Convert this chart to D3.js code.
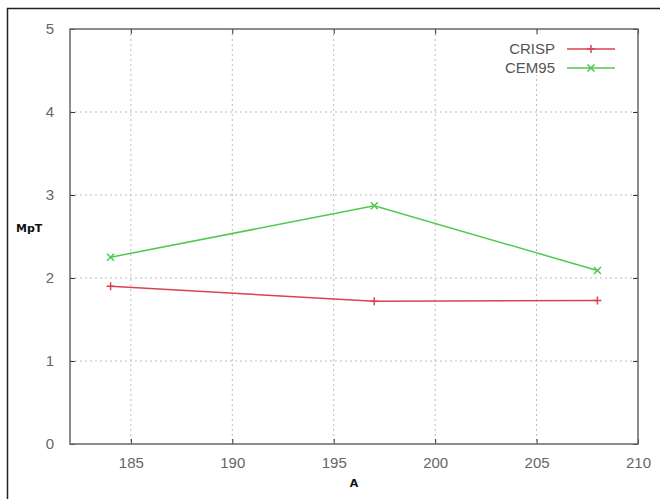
<!DOCTYPE html>
<html>
<head>
<meta charset="utf-8">
<script src="https://cdn.jsdelivr.net/npm/d3@7"></script>
<style>
  body { margin: 0; background: #fff; }
  svg { font-family: "Liberation Sans", Arial, sans-serif; }
  .tick text { fill: #666; font-size: 15px; }
  .axis-title { font-family: "DejaVu Sans", sans-serif; font-weight: bold; font-size: 11px; fill: #111; }
</style>
</head>
<body>
<svg id="chart"></svg>
<script>
// data
const xValues = [184, 197, 208];
const crisp = [1.90, 1.72, 1.73];
const cem95 = [2.25, 2.87, 2.09];
const seriesNames = ['CRISP', 'CEM95'];
const seriesColors = ['#d8434f', '#4ec94e'];
const xTicks = [185, 190, 195, 200, 205, 210];
const yTicks = [0, 1, 2, 3, 4, 5];

const W = 660, H = 499;
const margin = {top: 29, right: 22, bottom: 55, left: 70};
const width = W - margin.left - margin.right;
const height = H - margin.top - margin.bottom;

const svg = d3.select('#chart').attr('width', W).attr('height', H);

// outer frame (cut off at right/bottom in the original)
svg.append('rect')
    .attr('x', 7.5).attr('y', 8.5)
    .attr('width', W).attr('height', H)
    .attr('fill', 'none').attr('stroke', '#222').attr('stroke-width', 1.5);

const chart = svg.append('g')
    .attr('transform', `translate(${margin.left},${margin.top})`);

const xScale = d3.scaleLinear().domain([182, 210]).range([0, width]);
const yScale = d3.scaleLinear().domain([0, 5]).range([height, 0]);

// grid
chart.append('g').selectAll('line')
    .data(xTicks.filter(d => d < 210))
    .join('line')
    .attr('x1', d => xScale(d)).attr('x2', d => xScale(d))
    .attr('y1', 0).attr('y2', height)
    .attr('stroke', '#bbb').attr('stroke-dasharray', '2,3');
chart.append('g').selectAll('line')
    .data(yTicks.filter(d => d > 0 && d < 5))
    .join('line')
    .attr('y1', d => yScale(d)).attr('y2', d => yScale(d))
    .attr('x1', 0).attr('x2', width)
    .attr('stroke', '#bbb').attr('stroke-dasharray', '2,3');

// axes
const xAxis = d3.axisBottom(xScale).tickValues(xTicks).tickFormat(d3.format('d'))
    .tickSize(-5).tickPadding(13).tickSizeOuter(0);
const yAxis = d3.axisLeft(yScale).tickValues(yTicks).tickFormat(d3.format('d'))
    .tickSize(-5).tickPadding(16).tickSizeOuter(0);
const xTop = d3.axisTop(xScale).tickValues(xTicks).tickSize(-5).tickFormat('').tickSizeOuter(0);
const yRight = d3.axisRight(yScale).tickValues(yTicks).tickSize(-5).tickFormat('').tickSizeOuter(0);

chart.append('g').attr('transform', `translate(0,${height})`).call(xAxis);
chart.append('g').call(yAxis);
chart.append('g').call(xTop);
chart.append('g').attr('transform', `translate(${width},0)`).call(yRight);
chart.selectAll('.domain').remove();
chart.selectAll('.tick line').attr('stroke', '#333');

// legend box background hides grid
const legend = chart.append('g').attr('transform', `translate(${width - 170},6)`);
legend.append('rect').attr('width', 160).attr('height', 40).attr('fill', '#fff');

// plot border
chart.append('rect')
    .attr('width', width).attr('height', height)
    .attr('fill', 'none').attr('stroke', '#666').attr('stroke-width', 1.5);

// lines
const allSeries = [crisp, cem95];
const line = d3.line().x((d, i) => xScale(xValues[i])).y(d => yScale(d));
const markers = ['M-4,0H4M0,-4V4', 'M-3.5,-3.5L3.5,3.5M-3.5,3.5L3.5,-3.5'];

allSeries.forEach((vals, s) => {
    chart.append('path')
        .datum(vals)
        .attr('d', line)
        .attr('fill', 'none')
        .attr('stroke', seriesColors[s])
        .attr('stroke-width', 1.5);
    chart.append('g').selectAll('path')
        .data(vals)
        .join('path')
        .attr('transform', (d, i) => `translate(${xScale(xValues[i])},${yScale(d)})`)
        .attr('d', markers[s])
        .attr('stroke', seriesColors[s])
        .attr('stroke-width', 1.5);
});

// legend entries
seriesNames.forEach((name, s) => {
    const y = 14 + s * 19;
    legend.append('text')
        .attr('x', 87).attr('y', y).attr('dy', '0.35em')
        .attr('text-anchor', 'end')
        .style('font-size', '15px').style('fill', '#555')
        .text(name);
    legend.append('line')
        .attr('x1', 99).attr('x2', 147).attr('y1', y).attr('y2', y)
        .attr('stroke', seriesColors[s]).attr('stroke-width', 1.5);
    legend.append('path')
        .attr('transform', `translate(123,${y})`)
        .attr('d', markers[s])
        .attr('stroke', seriesColors[s]).attr('stroke-width', 1.5);
});

// axis titles
chart.append('text')
    .attr('class', 'axis-title')
    .attr('x', xScale(196)).attr('y', height + 43)
    .attr('text-anchor', 'middle')
    .text('A');
chart.append('text')
    .attr('class', 'axis-title')
    .attr('x', -54).attr('y', yScale(2.6)).attr('dy', '0.35em')
    .text('MpT');
</script>
</body>
</html>
